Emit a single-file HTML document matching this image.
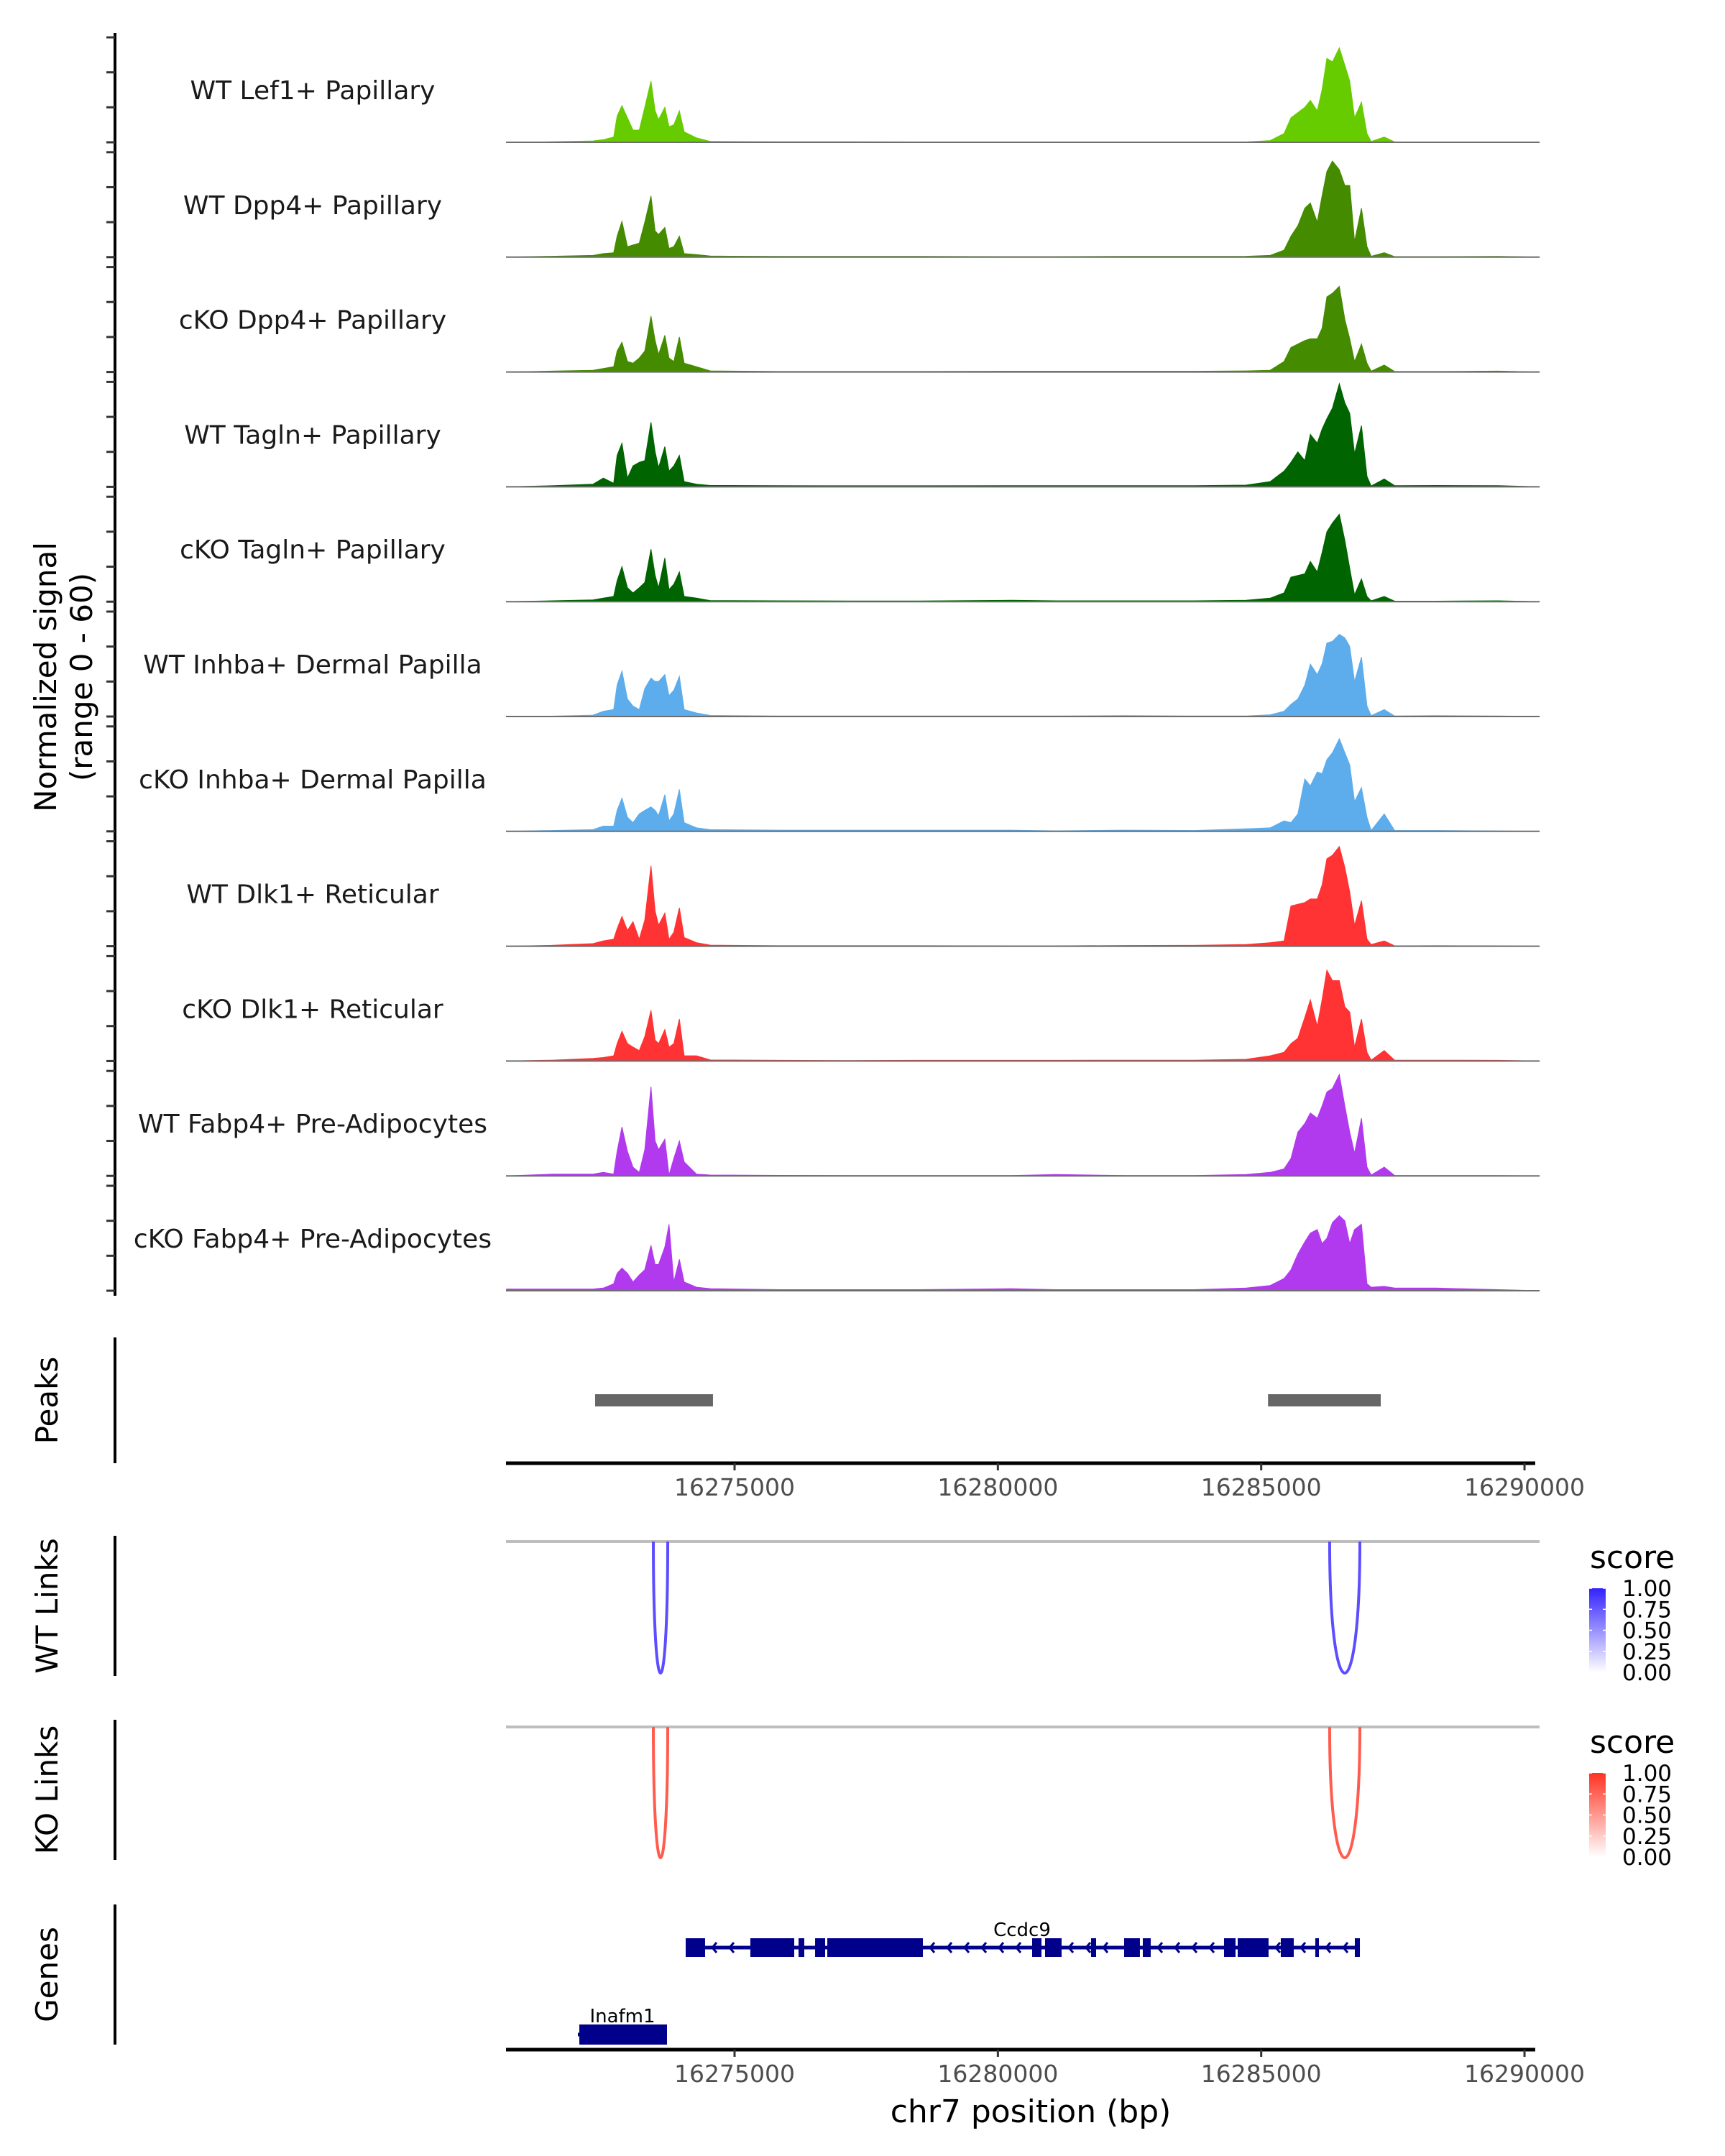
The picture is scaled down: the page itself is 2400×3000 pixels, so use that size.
<!DOCTYPE html>
<html><head><meta charset="utf-8"><title>Coverage plot</title>
<style>
html,body{margin:0;padding:0;background:#fff;}
svg{display:block;font-family:"DejaVu Sans","Liberation Sans",sans-serif;}
</style></head>
<body>
<svg id="chart" width="2400" height="3000" viewBox="0 0 2400 3000" xmlns="http://www.w3.org/2000/svg">
<rect x="0" y="0" width="2400" height="3000" fill="#fff"/>
</svg>
<script>
const anchorsPos = [16270670,16271524,16272311,16272508,16272705,16272770,16272862,16272967,16273072,16273190,16273295,16273413,16273492,16273558,16273676,16273755,16273847,16273952,16274043,16274279,16274542,16275854,16277167,16278479,16280250,16281103,16282416,16283728,16284712,16285170,16285434,16285565,16285696,16285828,16285933,16286064,16286156,16286248,16286353,16286484,16286589,16286681,16286773,16286904,16287009,16287088,16287337,16287534,16288321,16289502,16290290];
const trackNames = ["WT Lef1+ Papillary","WT Dpp4+ Papillary","cKO Dpp4+ Papillary","WT Tagln+ Papillary","cKO Tagln+ Papillary","WT Inhba+ Dermal Papilla","cKO Inhba+ Dermal Papilla","WT Dlk1+ Reticular","cKO Dlk1+ Reticular","WT Fabp4+ Pre-Adipocytes","cKO Fabp4+ Pre-Adipocytes"];
const trackColors = ["#66cc00","#458b00","#458b00","#006400","#006400","#5dadec","#5dadec","#ff3333","#ff3333","#b23aee","#b23aee"];
const sigWTLef1 = [0,0.3,0.8,1.5,3,15,21,14,7,7,20,35,18,13,20,9,10,18,6,2.5,0.5,0.3,0.3,0.2,0.2,0.2,0.2,0.2,0.2,1,5,14,17,20,24,18,30,48,46,54,44,35,14,23,5,0.5,3,0.2,0.2,0.2,0];
const sigWTDpp4 = [0,0.5,1,2,2.5,12,20.5,6,7,8,20,35,15,13,17,5,6,12,2,1.5,0.6,0.4,0.4,0.4,0.3,0.3,0.4,0.4,0.5,1,4,12,18,28,31,20,35,49,55,50,41,41,9,28,6,0.5,2.5,0.3,0.3,0.4,0];
const sigKODpp4 = [0,0.5,1,2,3,12,17,6,5,8,12,32,18,10,21,8,6,20,5,3,0.6,0.3,0.3,0.3,0.4,0.4,0.4,0.4,0.6,1,6,14,16,18,19,19,25,43,45,49,30,19,6,16,5,0.5,4,0.3,0.3,0.5,0];
const sigWTTagln = [0,0.6,1.5,5,2,18,25,5,12,14,15,37,20,11,23,9,12,18,3,1.5,0.8,0.7,0.6,0.6,0.7,0.7,0.7,0.7,1,3,9,14,20,15,30,25,33,39,45,59,48,42,19,35,6,0.5,4.5,0.7,0.8,0.7,0];
const sigKOTagln = [0,0.5,1,2,3,12,20,8,5,8,11,30,15,8,25,7,10,17,3,2,0.6,0.5,0.4,0.4,0.8,0.5,0.5,0.5,0.8,2,5,14,15,16,23,17,28,40,45,50,35,19,4,13,3,0.5,3,0.3,0.3,0.5,0];
const sigWTInhba = [0,0.2,0.8,3,4,18,26,10,6,4,16,22,20,20,24,12,15,23,4,2,0.6,0.3,0.3,0.3,0.3,0.3,0.5,0.3,0.3,1,3,7,10,18,30,24,30,42,43,47,45,40,20,34,6,0.5,4,0.3,0.5,0.3,0];
const sigKOInhba = [0,0.5,1,3,3,12,19,8,5,10,12,14,12,9,21,6,10,24,5,2,1,0.7,0.7,0.7,0.7,0.3,0.7,0.5,1.5,2,6,5,10,30,26,34,33,41,45,53,45,38,17,25,8,0.5,10,0.5,0.5,0.2,0];
const sigWTDlk1 = [0,0.5,1.5,3,4,10,17,9,14,4,15,46,20,12,19,4,8,22,5,2,0.6,0.3,0.3,0.3,0.2,0.2,0.4,0.5,1,2,3,23,24,25,27,27,35,50,52,57,45,31,12,26,4,1,3,0.2,0.3,0.2,0];
const sigKODlk1 = [0,0.5,1.5,2,3,10,17,10,8,6,14,29,12,10,18,8,10,24,3,3,0.6,0.4,0.3,0.4,0.4,0.4,0.5,0.5,1,3,5,10,13,25,35,20,35,52,46,46,31,28,8,24,5,0.5,6,0.5,0.5,0.4,0];
const sigWTFabp4 = [0,1,1,2,1,14,28,14,5,2,15,51,20,15,21,0.5,10,20,8,1,0.5,0.3,0.2,0.2,0.2,0.8,0.2,0.2,0.8,2,4,10,25,30,36,33,40,48,50,58,40,25,13,33,5,0.5,5,0.2,0.2,0.2,0];
const sigKOFabp4 = [1,1,1,1.5,4,10,13,10,5,9,12,26,15,15,25,38,5,18,5,2,1.2,0.6,0.6,0.6,1.2,0.6,0.6,0.6,1.5,3,7,12,21,28,33,35,27,30,39,43,40,27,35,38,4,2,2.5,1.5,1.5,0.6,0];
const xTicks = [16275000,16280000,16285000,16290000];
const peakStart = [16272352,16285130];
const peakEnd = [16274590,16287270];
const linkStart = [16273458,16286300];
const linkEnd = [16273731,16286874];
const wtLinkScore = [0.8,0.8];
const koLinkScore = [0.8,0.8];
const legendTicks = ["1.00","0.75","0.50","0.25","0.00"];
const ccdc9ExonStart = [16274072,16275300,16276215,16276529,16276761,16280650,16280896,16281769,16282397,16282752,16284294,16284554,16285372,16286027,16286778];
const ccdc9ExonEnd = [16274440,16276133,16276324,16276720,16278576,16280828,16281210,16281865,16282697,16282902,16284513,16285140,16285618,16286096,16286874];
const inafm1Start = [16272025];
const inafm1End = [16273717];

const signals = [sigWTLef1,sigWTDpp4,sigKODpp4,sigWTTagln,sigKOTagln,sigWTInhba,sigKOInhba,sigWTDlk1,sigKODlk1,sigWTFabp4,sigKOFabp4];
const NS = "http://www.w3.org/2000/svg";
const svg = document.getElementById("chart");
const X0 = 704, X1 = 2138;
function xs(p){ return 1022 + (p - 16275000) * 0.07327; }
const base0 = 198, spacing = 159.8, trackH = 146, maxVal = 60;
function ys(v, base){ return base - Math.min(v, maxVal) / maxVal * trackH; }
function mk(tag, attrs, parent){
  const e = document.createElementNS(NS, tag);
  for (const k in attrs) e.setAttribute(k, attrs[k]);
  (parent || svg).appendChild(e);
  return e;
}
function txt(str, attrs, parent){ const t = mk("text", attrs, parent); t.textContent = str; return t; }

let t = txt("", {x:0, y:0, "font-size":42, fill:"#000", "text-anchor":"middle", transform:"translate(78,942) rotate(-90)"});


const ts1 = mk("tspan", {x:0, dy:0}, t); ts1.textContent = "Normalized signal";
const ts2 = mk("tspan", {x:0, dy:50}, t); ts2.textContent = "(range 0 - 60)";

let ax = mk("line", {x1:160, y1:46, x2:160, y2:1803, stroke:"#000", "stroke-width":4});



for (let i = 0; i < signals.length; i++) {
  const base = base0 + i * spacing;
  const g = mk("g", {});
  
  
  for (let k = 0; k <= 3; k++) {
    const ty = base - k * trackH / 3;
    const tk = mk("line", {x1:148, y1:ty, x2:160, y2:ty, stroke:"#333", "stroke-width":3}, g);
    
    
  }
  const lab = txt(trackNames[i], {x:435, y:base - 73 + 13, "font-size":36, fill:"#1a1a1a", "text-anchor":"middle"}, g);
  
  
  const vals = signals[i];
  const n = Math.min(vals.length, anchorsPos.length);
  let pts = [xs(anchorsPos[0]).toFixed(1) + "," + base];
  for (let j = 0; j < n; j++) pts.push(xs(anchorsPos[j]).toFixed(1) + "," + ys(vals[j], base).toFixed(1));
  pts.push(xs(anchorsPos[n-1]).toFixed(1) + "," + base);
  const area = mk("polygon", {points: pts.join(" "), fill: trackColors[i], stroke: trackColors[i], "stroke-width":1}, g);
  
  
  const bl = mk("line", {x1:X0, y1:base, x2:2142, y2:base, stroke:"#6e6e6e", "stroke-width":2}, g);
  
  
}

const panels = [["Peaks",1861,2036,"peaks-title"],["WT Links",2137,2332,"wt-links-title"],["KO Links",2393,2588,"ko-links-title"],["Genes",2650,2845,"genes-title"]];
for (const p of panels) {
  const l = mk("line", {x1:160, y1:p[1], x2:160, y2:p[2], stroke:"#000", "stroke-width":4});
  
  
  const tt = txt(p[0], {x:0, y:0, "font-size":42, fill:"#000", "text-anchor":"middle", transform:"translate(80," + ((p[1]+p[2])/2) + ") rotate(-90)"});
  
  
}

for (let i = 0; i < peakStart.length; i++) {
  const r = mk("rect", {x:xs(peakStart[i]), y:1940, width:xs(peakEnd[i]) - xs(peakStart[i]), height:17, fill:"#666"});
  
  
}

function xAxis(y, nameBase){
  const l = mk("line", {x1:X0, y1:y, x2:2136, y2:y, stroke:"#000", "stroke-width":5});
  
  
  for (const v of xTicks) {
    const tk = mk("line", {x1:xs(v), y1:y, x2:xs(v), y2:y + 10, stroke:"#333", "stroke-width":3});
    
    
    const tl = txt(String(v), {x:xs(v), y:y + 45, "font-size":33, fill:"#4d4d4d", "text-anchor":"middle"});
    
    
  }
}
xAxis(2036, 'peaks-x-axis');
xAxis(2852, 'genes-x-axis');
const xt = txt("chr7 position (bp)", {x:1434, y:2953, "font-size":44, fill:"#000", "text-anchor":"middle"});



function linkPanel(top, bottom, scores, hi, gradId, legendTop, nameBase){
  const gl = mk("line", {x1:X0, y1:top, x2:2142, y2:top, stroke:"#bebebe", "stroke-width":4});
  
  
  for (let i = 0; i < linkStart.length; i++) {
    const a = xs(linkStart[i]), b = xs(linkEnd[i]);
    const c = (bottom - 0.25 * top) / 0.75;
    const s = scores[i];
    const col = "rgb(" + Math.round(255 + (hi[0]-255)*s) + "," + Math.round(255 + (hi[1]-255)*s) + "," + Math.round(255 + (hi[2]-255)*s) + ")";
    const pth = mk("path", {d:"M" + a + "," + top + " C" + a + "," + c + " " + b + "," + c + " " + b + "," + top, fill:"none", stroke:col, "stroke-width":4});
    
    
  }
  const lg = mk("g", {});
  
  
  txt("score", {x:2212, y:legendTop + 14, "font-size":44, fill:"#000"}, lg);
  const defs = mk("defs", {}, lg);
  const grad = mk("linearGradient", {id:gradId, x1:0, y1:0, x2:0, y2:1}, defs);
  mk("stop", {offset:"0", "stop-color":"rgb(" + hi.join(",") + ")"}, grad);
  mk("stop", {offset:"1", "stop-color":"#ffffff"}, grad);
  const bt = legendTop + 42, bh = 117;
  mk("rect", {x:2211, y:bt, width:23, height:bh, fill:"url(#" + gradId + ")"}, lg);
  for (let k = 0; k < legendTicks.length; k++) {
    const yy = bt + k * bh / (legendTicks.length - 1);
    mk("line", {x1:2211, y1:yy, x2:2215, y2:yy, stroke:"#fff", "stroke-width":1.5}, lg);
    mk("line", {x1:2230, y1:yy, x2:2234, y2:yy, stroke:"#fff", "stroke-width":1.5}, lg);
    txt(legendTicks[k], {x:2257, y:yy + 11, "font-size":31, fill:"#000"}, lg);
  }
}
linkPanel(2145, 2328, wtLinkScore, [51,34,255], "gblue", 2168, 'wt-links');
linkPanel(2403, 2585, koLinkScore, [255,51,34], "gred", 2425, 'ko-links');

const geneCol = "#00008b";
const gy = 2710;
const gl1 = mk("line", {x1:xs(ccdc9ExonStart[0]), y1:gy, x2:xs(ccdc9ExonEnd[ccdc9ExonEnd.length-1]), y2:gy, stroke:geneCol, "stroke-width":5});


for (let i = 0; i < ccdc9ExonStart.length; i++) {
  const r = mk("rect", {x:xs(ccdc9ExonStart[i]), y:gy - 13, width:Math.max(4, xs(ccdc9ExonEnd[i]) - xs(ccdc9ExonStart[i])), height:26, fill:geneCol});
  
  
  if (i < ccdc9ExonStart.length - 1) {
    const a = xs(ccdc9ExonEnd[i]) + 10, b = xs(ccdc9ExonStart[i+1]) - 6;
    for (let x = a; x < b; x += 24) {
      const ch = mk("polyline", {points:(x+6) + "," + (gy-7) + " " + x + "," + gy + " " + (x+6) + "," + (gy+7), fill:"none", stroke:geneCol, "stroke-width":3});
      
      
    }
  }
}
const gt1 = txt("Ccdc9", {x:1422, y:gy - 16, "font-size":26, fill:"#000", "text-anchor":"middle"});


const iy = 2831;
const il = mk("line", {x1:xs(inafm1Start[0]), y1:iy, x2:xs(inafm1End[0]), y2:iy, stroke:geneCol, "stroke-width":5});


const ir = mk("rect", {x:xs(inafm1Start[0]) + 2, y:iy - 14, width:xs(inafm1End[0]) - xs(inafm1Start[0]) - 2, height:28, fill:geneCol});


const gt2 = txt("Inafm1", {x:(xs(inafm1Start[0]) + xs(inafm1End[0])) / 2, y:iy - 17, "font-size":26, fill:"#000", "text-anchor":"middle"});


</script>
</body></html>
